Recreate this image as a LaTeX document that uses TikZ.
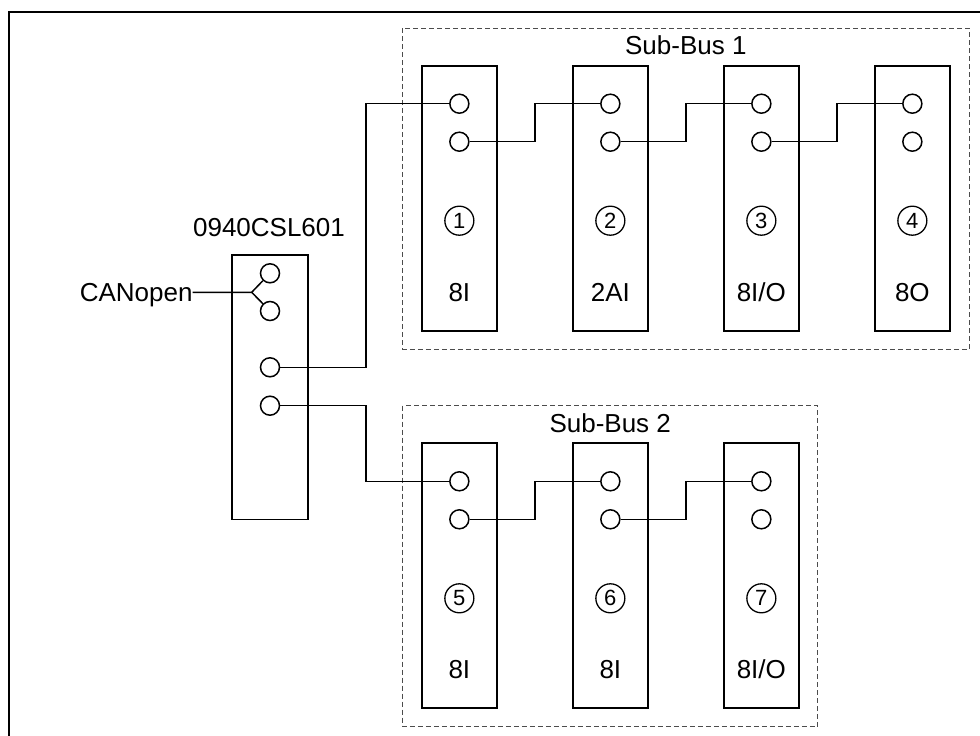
\documentclass[tikz,border=0pt]{standalone}
\usepackage{fontspec}
\setmainfont{Liberation Sans}
\begin{document}
\begin{tikzpicture}[x=1pt,y=-1pt,
  modbox/.style={draw, line width=1.7pt, minimum width=75.3pt, minimum height=265pt, inner sep=0pt},
  portc/.style={circle, draw, line width=1.5pt, minimum size=19pt, inner sep=0pt},
  wire/.style={line width=1.5pt},
  numc/.style={circle, draw, line width=1.3pt, minimum size=29pt, inner sep=0pt, font=\fontsize{22}{24}\selectfont},
  txt/.style={anchor=base, inner sep=0pt, font=\fontsize{26}{30}\selectfont},
  busbox/.style={draw=black!70, line width=1pt, dash pattern=on 5pt off 3pt},
  frame/.style={line width=2pt}
]
\useasboundingbox (0,0) rectangle (980,736);
\fill[white] (0,0) rectangle (980,736);
% outer frame (only top and left visible)
\draw[frame] (8.5,745) -- (8.5,12.3) -- (990,12.3);

% sub-bus frames
\draw[busbox] (402.5,28.3) rectangle (969.3,349);
\draw[busbox] (402.7,405.7) rectangle (817.7,726.6);
\node[txt] (sb1) at (685.8,54.6) {Sub-Bus 1};
\node[txt] (sb2) at (610.2,432.7) {Sub-Bus 2};

% controller
\node[modbox, minimum width=76pt, minimum height=264.3pt] (ctl) at (270.3,387.2) {};
\node[txt] (ctllbl) at (269,236.3) {0940CSL601};
\node[portc] (cp1) at (270,273.3) {};
\node[portc] (cp2) at (270,311) {};
\node[portc] (cp3) at (270,367.3) {};
\node[portc] (cp4) at (270,405.7) {};
\node[txt, anchor=base east] (can) at (192.7,301.5) {CANopen};
\coordinate (br) at (251.7,292.3);
\draw[wire] (can.east |- br) -- (br) -- (cp1);
\draw[wire] (br) -- (cp2);

% modules
\foreach \n/\cx/\top/\lab in {1/459.35/65.7/8I, 2/610.35/65.7/2AI, 3/761.35/65.7/8I\slash O, 4/912.35/65.7/8O,
                               5/459.35/443.3/8I, 6/610.35/443.3/8I, 7/761.35/443.3/8I\slash O}{
  \node[modbox] (m\n) at (\cx,\top+132.5) {};
  \node[portc] (p\n a) at (\cx,\top+38) {};
  \node[portc] (p\n b) at (\cx,\top+76) {};
  \node[numc] (n\n) at (\cx,\top+155) {\n};
  \node[txt] (l\n) at (\cx,\top+235.3) {\lab};
}

% jog coordinates
\coordinate (jc) at (366,0);
\coordinate (j12) at (534.85,0);
\coordinate (j23) at (685.85,0);
\coordinate (j34) at (836.85,0);

% wiring
\draw[wire] (cp3) -- (cp3 -| jc) |- (p1a);
\draw[wire] (cp4) -- (cp4 -| jc) |- (p5a);
\draw[wire] (p1b) -- (p1b -| j12) |- (p2a);
\draw[wire] (p2b) -- (p2b -| j23) |- (p3a);
\draw[wire] (p3b) -- (p3b -| j34) |- (p4a);
\draw[wire] (p5b) -- (p5b -| j12) |- (p6a);
\draw[wire] (p6b) -- (p6b -| j23) |- (p7a);
\end{tikzpicture}
\end{document}
